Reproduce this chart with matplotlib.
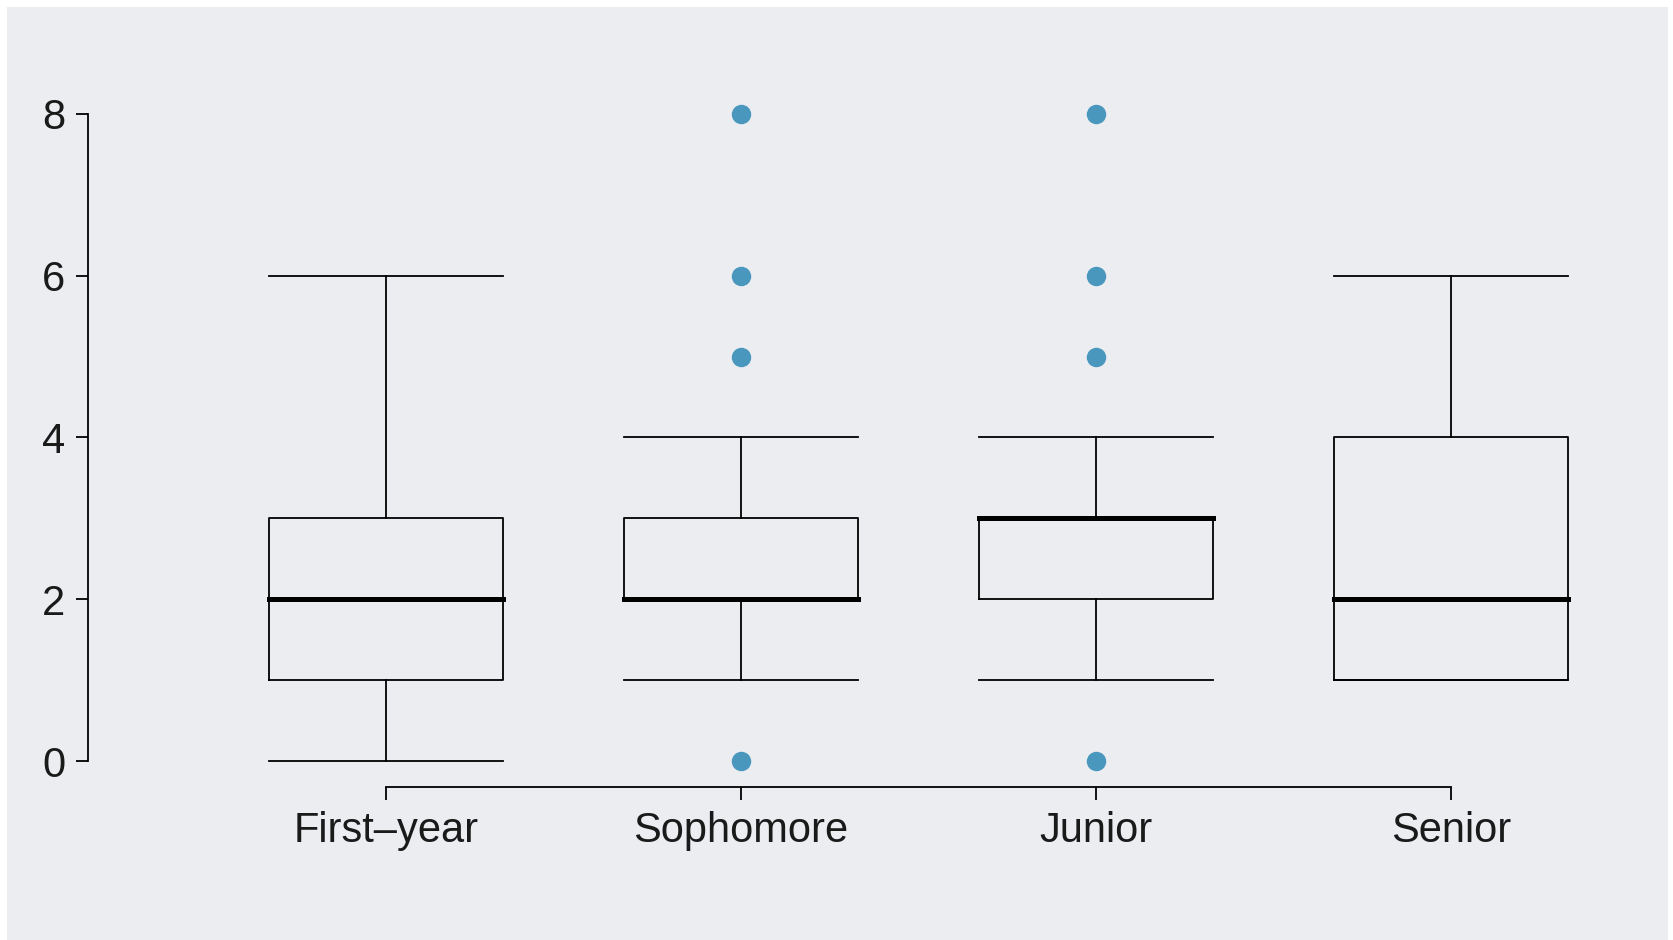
import matplotlib
matplotlib.use("Agg")
import matplotlib.pyplot as plt
import matplotlib.patches as mpatches

# box statistics
categories = ["First\u2013year", "Sophomore", "Junior", "Senior"]
whislo = [0, 1, 1, 1]
q1 = [1, 2, 2, 1]
medians = [2, 2, 3, 2]
q3 = [3, 3, 3, 4]
whishi = [6, 4, 4, 6]
fliers = [[], [0, 5, 6, 8], [0, 5, 6, 8], []]
yticks = [0, 2, 4, 6, 8]

BG = "#ebedf1"
DOT = "#4a97be"

W, H = 1673, 940
fig = plt.figure(figsize=(W / 100, H / 100), dpi=100)
fig.patch.set_facecolor("white")
fig.patches.append(mpatches.Rectangle((7 / W, 0), (1668 - 7) / W, 1 - 7 / H,
                                      transform=fig.transFigure, facecolor=BG,
                                      edgecolor="none", zorder=-10))

ax = fig.add_axes([87.5 / W, 1 - 787 / H, (1664 - 87.5) / W, (787 - 88) / H])
ax.set_facecolor("none")
ax.set_zorder(5)

stats = []
for i, name in enumerate(categories):
    stats.append(dict(label=name, whislo=whislo[i], q1=q1[i], med=medians[i],
                      q3=q3[i], whishi=whishi[i], fliers=fliers[i]))

pos = list(range(1, len(categories) + 1))
lw = 1.3
ax.bxp(stats, positions=pos, widths=0.66, showfliers=True,
       boxprops=dict(color="black", linewidth=lw),
       whiskerprops=dict(color="black", linewidth=lw),
       capprops=dict(color="black", linewidth=lw),
       medianprops=dict(color="black", linewidth=3.6, solid_capstyle="projecting"),
       flierprops=dict(marker="o", markerfacecolor=DOT, markeredgecolor=DOT,
                       markersize=13, linestyle="none"),
       capwidths=0.66)

ax.set_xlim(0.16, 4.6)
ax.set_ylim(-0.32, 8.32)

for s in ["top", "right"]:
    ax.spines[s].set_visible(False)
ax.spines["left"].set_bounds(0, 8)
ax.spines["bottom"].set_bounds(1, 4)
for s in ["left", "bottom"]:
    ax.spines[s].set_linewidth(lw)

ax.set_yticks(yticks)
ax.set_yticklabels([str(v) for v in yticks])
ax.set_xticks(pos)
ax.set_xticklabels(categories)
ax.tick_params(axis="both", length=9, width=lw, direction="out",
               labelsize=30, colors="black", labelcolor="#1a1a1a")
ax.tick_params(axis="y", pad=7)
ax.tick_params(axis="x", pad=8)
for lab in ax.get_xticklabels() + ax.get_yticklabels():
    lab.set_family(["Liberation Sans", "DejaVu Sans"])

fig.savefig("out.png", dpi=100, facecolor=fig.get_facecolor())
plt.close(fig)
